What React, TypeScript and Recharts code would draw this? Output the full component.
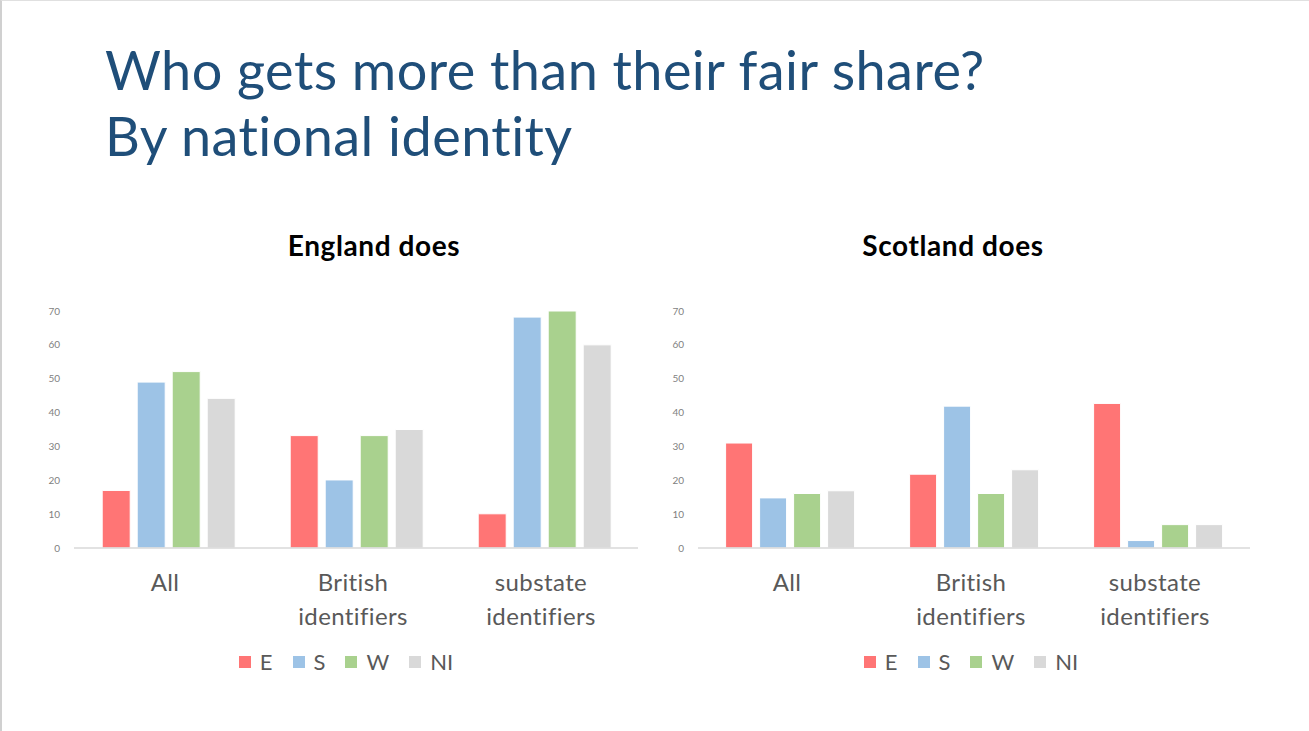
import React from "react";
import { BarChart, Bar, XAxis, YAxis, Legend } from "recharts";

const categories = ["All", "British\nidentifiers", "substate\nidentifiers"];
const seriesKeys = ["E", "S", "W", "NI"];
const seriesColors = ["#FF7575", "#9DC3E6", "#A9D18E", "#D9D9D9"];
const yTicks = [0, 10, 20, 30, 40, 50, 60, 70];

// England does: E, S, W, NI per category
const englandE = [17, 33.2, 10.1];
const englandS = [49, 20.1, 68.2];
const englandW = [52.1, 33.2, 70];
const englandNI = [44.2, 35, 60];

// Scotland does
const scotlandE = [31, 21.8, 42.7];
const scotlandS = [14.8, 41.9, 2.2];
const scotlandW = [16.1, 16.1, 6.9];
const scotlandNI = [16.9, 23.1, 6.9];

const FONT = "Lato, 'Open Sans', sans-serif";

function buildRows(e: number[], s: number[], w: number[], ni: number[]) {
  return categories.map((c, i) => ({ name: c, E: e[i], S: s[i], W: w[i], NI: ni[i] }));
}

const CategoryTick = (props: any) => {
  const { x, y, payload } = props;
  const lines = String(payload.value).split("\n");
  return (
    <g transform={`translate(${x - 3},${y})`}>
      {lines.map((l, i) => (
        <text
          key={i}
          x={0}
          y={35 + i * 34}
          textAnchor="middle"
          fill="#595959"
          fontSize={24}
          letterSpacing={0.4}
          fontFamily={FONT}
        >
          {l}
        </text>
      ))}
    </g>
  );
};

const LegendContent = () => (
  <div style={{ display: "flex", justifyContent: "center", alignItems: "center", fontFamily: FONT }}>
    {seriesKeys.map((k, i) => (
      <div key={k} style={{ display: "flex", alignItems: "center", marginRight: i < 3 ? 20 : 0 }}>
        <span style={{ width: 12, height: 12, background: seriesColors[i], display: "inline-block", marginRight: 9 }} />
        <span style={{ fontSize: 22, color: "#595959", lineHeight: "24px" }}>{k}</span>
      </div>
    ))}
  </div>
);

function Panel({ title, titleCenter, data, left, marginLeft, marginRight }: any) {
  return (
    <div style={{ position: "absolute", left, top: 280, width: 640, height: 420 }}>
      <BarChart
        width={640}
        height={420}
        data={data}
        margin={{ top: 30, right: marginRight, left: marginLeft, bottom: 53 }}
        barCategoryGap="15%"
        barGap={7}
      >
        <XAxis
          dataKey="name"
          axisLine={{ stroke: "#D9D9D9", strokeWidth: 1.5 }}
          tickLine={false}
          height={100}
          tick={<CategoryTick />}
          interval={0}
        />
        <YAxis
          domain={[0, 70]}
          ticks={yTicks}
          width={40}
          axisLine={false}
          tickLine={false}
          tickMargin={8}
          tick={{ fontSize: 10, fill: "#7F7F7F", fontFamily: FONT }}
        />
        <Legend
          verticalAlign="middle"
          layout="horizontal"
          wrapperStyle={{ top: 369, left: 6, width: 640 }}
          content={<LegendContent />}
        />
        {seriesKeys.map((k, i) => (
          <Bar key={k} dataKey={k} fill={seriesColors[i]} stroke="#fff" strokeWidth={1} isAnimationActive={false} />
        ))}
      </BarChart>
      <div
        style={{
          position: "absolute",
          left: titleCenter - left - 200,
          width: 400,
          top: -53,
          textAlign: "center",
          fontFamily: FONT,
          fontWeight: 700,
          fontSize: 28,
          letterSpacing: 0.6,
          color: "#000",
        }}
      >
        {title}
      </div>
    </div>
  );
}

export default function App() {
  return (
    <div
      style={{
        position: "absolute",
        left: 0,
        top: 0,
        width: 1309,
        height: 731,
        background: "#fff",
        borderLeft: "2px solid #D0D0D0",
        borderTop: "1px solid #E0E0E0",
        boxSizing: "border-box",
        overflow: "hidden",
      }}
    >
      <div
        style={{
          position: "absolute",
          left: 103,
          top: 36,
          fontFamily: FONT,
          fontSize: 54,
          letterSpacing: 0.45,
          lineHeight: "66px",
          color: "#1F4E79",
        }}
      >
        Who gets more than their fair share?
        <br />
        By national identity
      </div>
      <Panel
        title="England does"
        titleCenter={372}
        data={buildRows(englandE, englandS, englandW, englandNI)}
        left={18}
        marginLeft={14}
        marginRight={22}
      />
      <Panel
        title="Scotland does"
        titleCenter={951}
        data={buildRows(scotlandE, scotlandS, scotlandW, scotlandNI)}
        left={643}
        marginLeft={13}
        marginRight={35}
      />
    </div>
  );
}
